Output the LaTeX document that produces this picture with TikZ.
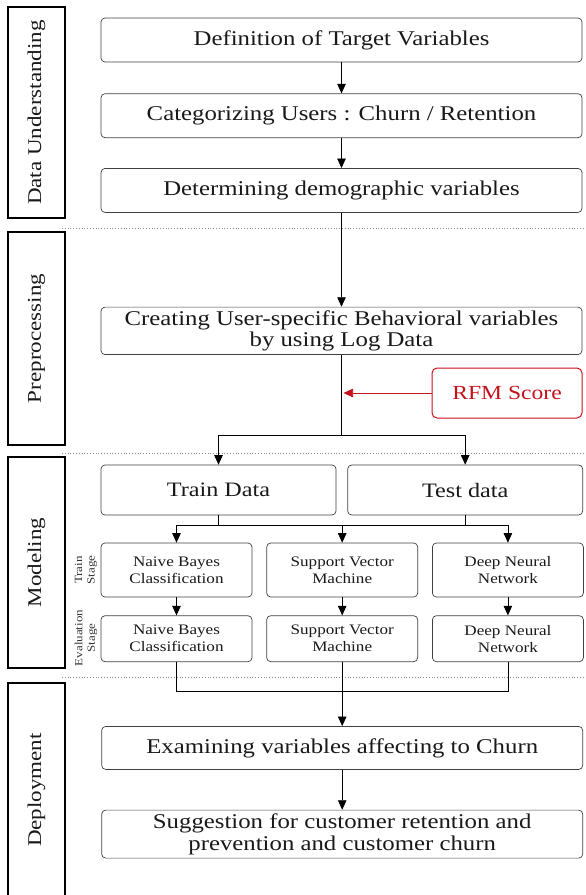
\documentclass[tikz,border=0pt]{standalone}
\usepackage{fontspec}
\setmainfont{Liberation Serif}[FakeStretch=1.18]
\usetikzlibrary{positioning,arrows.meta,calc}
\definecolor{rfmred}{RGB}{196,18,28}

\begin{document}
\begin{tikzpicture}[x=1pt, y=1pt, >={Triangle[width=8.5pt,length=9.5pt]}, line width=0.7pt,
  node distance=30pt and 14pt,
  stepbox/.style={draw=black!75, rounded corners=4pt, minimum width=481pt, minimum height=44pt,
    align=center, text=black!90, font=\fontsize{21}{21.5}\selectfont},
  databox/.style={stepbox, minimum width=235pt, minimum height=50pt, font=\fontsize{20.5}{24}\selectfont},
  modelbox/.style={stepbox, minimum width=151pt, minimum height=54pt, font=\fontsize{14.5}{17}\selectfont},
  phasebox/.style={draw, line width=1.5pt, rotate=90, minimum height=57pt, text=black!90,
    font=\fontsize{19.5}{22}\selectfont},
  stagelbl/.style={rotate=90, align=center, text=black!80, font=\fontsize{11}{12.5}\selectfont},
  sepline/.style={black!45, dotted, line width=0.8pt}]
  \useasboundingbox (0,0) rectangle (586,-895);

  % phases on the left
  \node[phasebox, minimum width=211pt] (understand) at (36.5,-112.5) {Data Understanding};
  \node[phasebox, minimum width=213pt] (prep)       at (36.5,-338.5) {Preprocessing};
  \node[phasebox, minimum width=211pt] (modeling)   at (36.5,-562.5) {Modeling};
  \node[phasebox, minimum width=214pt] (deploy)     at (36.5,-790)   {Deployment};

  \draw[sepline] (62,-228) -- (586,-228);
  \draw[sepline] (62,-453) -- (586,-453);
  \draw[sepline] (62,-677) -- (586,-677);

  % main column
  \node[stepbox] (target) at (341.5,-40) {Definition of Target Variables};
  \node[stepbox, below=31pt of target] (categ) {Categorizing Users : Churn / Retention};
  \node[stepbox, below=of categ] (demo) {Determining demographic variables};
  \node[stepbox, minimum height=47pt, below=94pt of demo] (behav)
    {Creating User-specific Behavioral variables\\by using Log Data};
  \node[draw=rfmred, line width=1pt, rounded corners=5pt, minimum width=150pt, minimum height=50pt,
    text=rfmred, font=\fontsize{20}{24}\selectfont] (rfm) at (507,-393) {RFM Score};

  \node[databox] (train) at (218.5,-490) {Train Data};
  \node[databox, right=11pt of train] (test) {Test data};

  \node[modelbox] (nbtr) at (176.5,-570) {Naive Bayes\\Classification};
  \node[modelbox, right=of nbtr] (svmtr) {Support Vector\\Machine};
  \node[modelbox, right=of svmtr] (dnntr) {Deep Neural\\Network};
  \node[modelbox, minimum height=46pt, below=18pt of nbtr] (nbev) {Naive Bayes\\Classification};
  \node[modelbox, minimum height=46pt, below=18pt of svmtr] (svmev) {Support Vector\\Machine};
  \node[modelbox, minimum height=46pt, below=18pt of dnntr] (dnnev) {Deep Neural\\Network};
  \node[stagelbl] (trstage) at (86,-570) {Train\\Stage};
  \node[stagelbl] (evstage) at (86,-638) {Evaluation\\Stage};

  \node[stepbox, minimum height=43pt, below=64pt of svmev] (examine) {Examining variables affecting to Churn};
  \node[stepbox, minimum height=48pt, below=40pt of examine] (suggest)
    {Suggestion for customer retention and\\prevention and customer churn};

  % connectors
  \draw[->] (target) -- (categ);
  \draw[->] (categ) -- (demo);
  \draw[->] (demo) -- (behav);
  \coordinate (split) at ($(behav.south)+(0,-80)$);
  \draw (behav) -- (split);
  \draw[->] (split) -| (train.north);
  \draw[->] (split) -| (test.north);
  \draw[->, rfmred] (rfm.west) -- ($(rfm.west -| behav.south)+(2,0)$);

  \coordinate (fork) at ($(train.south)+(0,-10)$);
  \draw (train.south) -- (fork);
  \draw (test.south) -- (test.south |- fork);
  \draw[->] (fork) -| (nbtr.north);
  \draw[->] (fork) -| (svmtr.north);
  \draw[->] (fork) -| (dnntr.north);
  \draw[->] (nbtr) -- (nbev);
  \draw[->] (svmtr) -- (svmev);
  \draw[->] (dnntr) -- (dnnev);

  \coordinate (merge) at ($(svmev.south)+(0,-29)$);
  \draw (nbev.south) |- (merge) -| (dnnev.south);
  \draw[->] (svmev) -- (examine);
  \draw[->] (examine) -- (suggest);
\end{tikzpicture}
\end{document}
